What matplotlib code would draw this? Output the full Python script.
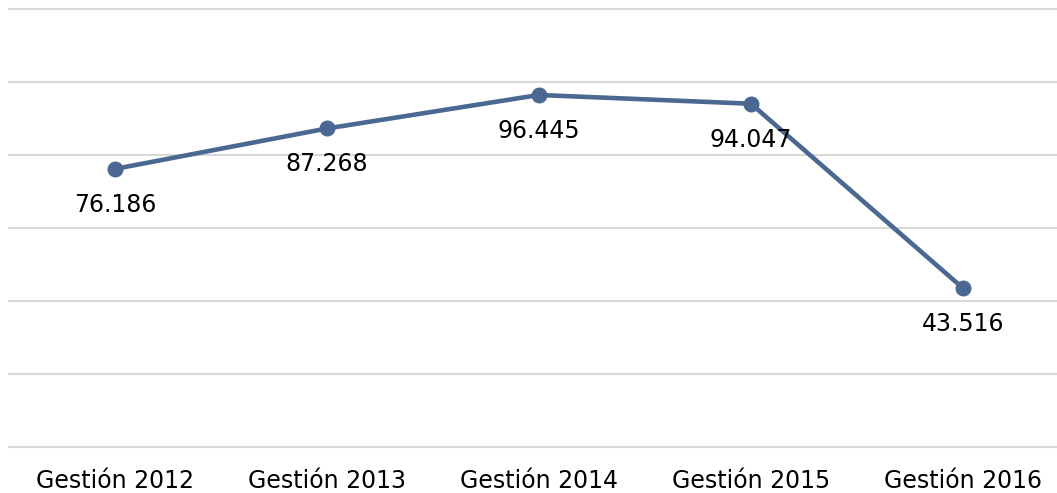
import matplotlib
matplotlib.use("Agg")
import matplotlib.pyplot as plt

categories = ["Gestión 2012", "Gestión 2013", "Gestión 2014", "Gestión 2015", "Gestión 2016"]
values = [76.186, 87.268, 96.445, 94.047, 43.516]
labels = ["76.186", "87.268", "96.445", "94.047", "43.516"]

W, H, DPI = 1057, 493, 100
fig = plt.figure(figsize=(W / DPI, H / DPI), dpi=DPI)
ax = fig.add_axes([9 / W, (H - 447) / H, 1060 / W, 438 / H])

x = list(range(len(categories)))
color = "#4a6891"
ax.plot(x, values, color=color, lw=3.3, marker="o", ms=10.5, solid_capstyle="round", zorder=3)

for xi, v, lab in zip(x, values, labels):
    ax.annotate(lab, (xi, v), xytext=(0, -36), textcoords="offset pixels",
                ha="center", va="center", fontsize=17, color="#000000",
                family="DejaVu Sans")

ax.set_xlim(-0.5, len(categories) - 0.5)
ax.set_ylim(0, 120)
ax.set_yticks(range(0, 121, 20))
ax.set_yticklabels([])
ax.set_xticks(x)
ax.set_xticklabels(categories, fontsize=17, family="DejaVu Sans")
ax.tick_params(axis="both", length=0)
ax.tick_params(axis="x", pad=16)
ax.grid(axis="y", color="#d9d9d9", lw=1.5)
for gl in ax.get_ygridlines():
    gl.set_clip_on(False)
ax.set_axisbelow(True)
for s in ax.spines.values():
    s.set_visible(False)

fig.savefig("out.png", dpi=DPI)
